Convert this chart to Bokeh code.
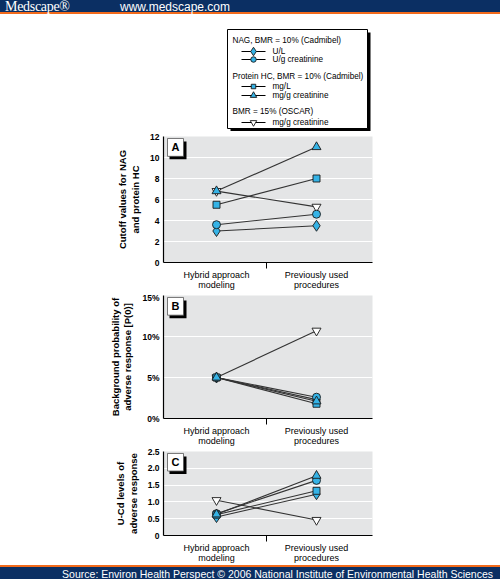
from bokeh.plotting import figure
from bokeh.layouts import column
from bokeh.models import Range1d, FixedTicker, PrintfTickFormatter, NumeralTickFormatter, Div
from bokeh.embed import file_html
from bokeh.resources import INLINE
from bokeh.core.properties import value

# ---------------- data ----------------
categories = ["Hybrid approach modeling", "Previously used procedures"]
category_labels = ["Hybrid approach\nmodeling", "Previously used\nprocedures"]

series_keys = ["oscar_mgg", "nag_ul", "nag_ug", "hc_mgl", "hc_mgg"]

# Panel A: cutoff values for NAG and protein HC
cutoff_nag_ul = [3.0, 3.5]
cutoff_nag_ug = [3.6, 4.6]
cutoff_hc_mgl = [5.5, 8.0]
cutoff_hc_mgg = [6.8, 11.0]
cutoff_oscar_mgg = [6.8, 5.3]

# Panel B: background probability of adverse response P(0), %
p0_nag_ul = [5.0, 2.3]
p0_nag_ug = [5.0, 2.6]
p0_hc_mgl = [5.0, 1.8]
p0_hc_mgg = [5.0, 2.1]
p0_oscar_mgg = [5.0, 10.7]

# Panel C: U-Cd levels of adverse response
ucd_nag_ul = [0.55, 1.23]
ucd_nag_ug = [0.65, 1.64]
ucd_hc_mgl = [0.62, 1.33]
ucd_hc_mgg = [0.63, 1.78]
ucd_oscar_mgg = [1.05, 0.46]

ticks_a = [0, 2, 4, 6, 8, 10, 12]
ticks_b = [0, 5, 10, 15]
ticks_c = [0, 0.5, 1.0, 1.5, 2.0, 2.5]

legend_groups = ["NAG, BMR = 10% (Cadmibel)", "Protein HC, BMR = 10% (Cadmibel)", "BMR = 15% (OSCAR)"]
legend_items = ["U/L", "U/g creatinine", "mg/L", "mg/g creatinine", "mg/g creatinine"]

# ---------------- styles ----------------
SANS = "Liberation Sans"
CYAN = "#35b3e6"
NAVY = "#0b2f63"
ORANGE = "#f26a1b"
PANEL_BG = "#e4e5e6"
LINE_C = "#333333"

marker_style = {
    "nag_ul": dict(marker="diamond", size=11, fill_color=CYAN),
    "nag_ug": dict(marker="circle", size=8, fill_color=CYAN),
    "hc_mgl": dict(marker="square", size=7, fill_color=CYAN),
    "hc_mgg": dict(marker="triangle", size=9, fill_color=CYAN),
    "oscar_mgg": dict(marker="inverted_triangle", size=9, fill_color="white"),
}

W = 500
BL, BR = 163, 128  # left / right borders -> frame spans x 163..372


def make_panel(fig_top, fig_bot, frame_top, frame_bot, ymax, ticks, ylabel, letter, data, fmt, overrides=None):
    p = figure(width=W, height=fig_bot - fig_top, output_backend="svg", toolbar_location=None,
               title=None,
               x_range=Range1d(-0.53, 1.56), y_range=Range1d(0, ymax),
               min_border_left=BL, min_border_right=BR,
               min_border_top=frame_top - fig_top, min_border_bottom=fig_bot - frame_bot)
    p.background_fill_color = PANEL_BG
    p.border_fill_color = None
    p.outline_line_color = None
    p.xgrid.visible = False
    p.ygrid.grid_line_color = "white"
    p.ygrid.grid_line_width = 1.2
    p.ygrid.ticker = FixedTicker(ticks=ticks)

    xa = p.xaxis[0]
    xa.ticker = FixedTicker(ticks=list(range(len(categories))), minor_ticks=[0.5])
    xa.major_label_overrides = {i: lab for i, lab in enumerate(category_labels)}
    xa.major_tick_out = 0
    xa.major_tick_in = 0
    xa.minor_tick_out = 6
    xa.minor_tick_in = 0
    xa.minor_tick_line_color = "black"
    xa.axis_line_color = "black"
    xa.axis_line_width = 1.2
    xa.major_label_standoff = 1
    xa.major_label_text_font = SANS
    xa.major_label_text_font_size = "9px"
    xa.major_label_text_color = "black"
    xa.major_label_text_line_height = 1.0

    ya = p.yaxis[0]
    ya.ticker = FixedTicker(ticks=ticks, minor_ticks=[])
    ya.formatter = fmt
    if overrides:
        ya.major_label_overrides = overrides
    ya.major_tick_out = 0
    ya.major_tick_in = 0
    ya.axis_line_color = "black"
    ya.axis_line_width = 1.2
    ya.major_label_standoff = 4
    ya.major_label_text_font = SANS
    ya.major_label_text_font_size = "8.5px"
    ya.major_label_text_font_style = "bold"
    ya.major_label_text_color = "black"
    ya.axis_label = ylabel
    ya.axis_label_text_font = SANS
    ya.axis_label_text_font_size = "9.5px"
    ya.axis_label_text_font_style = "bold"
    ya.axis_label_text_color = "black"
    ya.axis_label_text_line_height = 1.15
    ya.axis_label_standoff = 6

    # helpers: page pixel -> data coordinates (for the decoration box only)
    def dx(px):
        return -0.53 + (px - 163) / 100.0

    def dy(py):
        return ymax * (frame_bot - py) / (frame_bot - frame_top)

    bx0, by0 = 167, frame_top + 2
    p.quad(left=dx(bx0 + 2), right=dx(bx0 + 19), top=dy(by0 + 3), bottom=dy(by0 + 21),
           fill_color="black", line_color=None)
    p.quad(left=dx(bx0), right=dx(bx0 + 16), top=dy(by0), bottom=dy(by0 + 18),
           fill_color="white", line_color="#555555", line_width=0.8)
    p.text(x=[dx(bx0 + 8)], y=[dy(by0 + 9)], text=[letter], text_align="center",
           text_baseline="middle", text_font=value(SANS), text_font_style="bold",
           text_font_size="11px", text_color="black")

    xs = list(range(len(categories)))
    for key in series_keys:
        p.line(xs, data[key], line_color=LINE_C, line_width=1.1)
    for key in series_keys:
        st = marker_style[key]
        p.scatter(xs, data[key], marker=st["marker"], size=st["size"], fill_color=st["fill_color"],
                  line_color="#1a1a1a", line_width=0.9)
    return p


# ---------------- header ----------------
hdr = Div(text=(
    '<div style="position:relative;width:500px;height:14px;background:%s;border-bottom:2px solid %s;">'
    '<span style="position:absolute;left:5px;top:0px;line-height:14px;font-family:\'Liberation Serif\';'
    'font-size:14px;color:white;letter-spacing:-0.3px;">Medscape&reg;</span>'
    '<span style="position:absolute;left:120px;top:0px;line-height:14px;font-family:\'Liberation Sans\';'
    'font-size:12px;color:white;">www.medscape.com</span></div>') % (NAVY, ORANGE),
    width=W, height=16, margin=0)

# ---------------- legend ----------------
leg = figure(width=W, height=115, output_backend="svg", toolbar_location=None, title=None,
             x_range=Range1d(163, 372), y_range=Range1d(131, 16), x_axis_type=None, y_axis_type=None,
             min_border_left=BL, min_border_right=BR, min_border_top=0, min_border_bottom=0)
leg.outline_line_color = None
leg.grid.visible = False
leg.background_fill_color = "white"
leg.quad(left=[230], right=[370], top=[32], bottom=[131], fill_color="black", line_color=None)
leg.quad(left=[227], right=[367], top=[29], bottom=[128], fill_color="white", line_color="black", line_width=1)

group_y = [40, 76, 111]
item_y = [51, 59, 86, 95, 122]
item_keys = ["nag_ul", "nag_ug", "hc_mgl", "hc_mgg", "oscar_mgg"]
leg.text(x=[232] * 3, y=group_y, text=legend_groups, text_font=value(SANS), text_font_size="8.2px",
         text_baseline="middle", text_color="black")
leg.text(x=[272] * 5, y=item_y, text=legend_items, text_font=value(SANS), text_font_size="8.2px",
         text_baseline="middle", text_color="black")
leg.segment(x0=[241] * 5, x1=[265] * 5, y0=item_y, y1=item_y, line_color="black", line_width=1)
for k, yy in zip(item_keys, item_y):
    st = marker_style[k]
    leg.scatter([253], [yy], marker=st["marker"], size=st["size"] - 2.5, fill_color=st["fill_color"],
                line_color="#1a1a1a", line_width=0.9)

# ---------------- panels ----------------
data_a = {"nag_ul": cutoff_nag_ul, "nag_ug": cutoff_nag_ug, "hc_mgl": cutoff_hc_mgl,
          "hc_mgg": cutoff_hc_mgg, "oscar_mgg": cutoff_oscar_mgg}
data_b = {"nag_ul": p0_nag_ul, "nag_ug": p0_nag_ug, "hc_mgl": p0_hc_mgl,
          "hc_mgg": p0_hc_mgg, "oscar_mgg": p0_oscar_mgg}
data_c = {"nag_ul": ucd_nag_ul, "nag_ug": ucd_nag_ug, "hc_mgl": ucd_hc_mgl,
          "hc_mgg": ucd_hc_mgg, "oscar_mgg": ucd_oscar_mgg}

pa = make_panel(131, 292, 136, 263, 12, ticks_a, "Cutoff values for NAG\nand protein HC", "A",
                data_a, NumeralTickFormatter(format="0"))
pb = make_panel(292, 448, 295, 420, 15, ticks_b, "Background probability of\nadverse response [P(0)]", "B",
                data_b, PrintfTickFormatter(format="%d%%"))
pc = make_panel(448, 565, 451, 537, 2.5, ticks_c, "U-Cd levels of\nadverse response", "C",
                data_c, NumeralTickFormatter(format="0.0"), overrides={0: "0"})

# ---------------- footer ----------------
ftr = Div(text=(
    '<div style="position:relative;width:500px;height:14px;background:%s;border-top:2px solid %s;'
    'font-family:\'Liberation Sans\';font-size:10.5px;color:white;line-height:14px;text-align:right;">'
    '<span style="padding-right:7px;">Source: Environ Health Perspect &copy; 2006 National Institute of '
    'Environmental Health Sciences</span></div>') % (NAVY, ORANGE),
    width=W, height=16, margin=0)

layout = column(hdr, leg, pa, pb, pc, ftr, spacing=0)
open("out.html", "w").write(file_html(layout, INLINE))
